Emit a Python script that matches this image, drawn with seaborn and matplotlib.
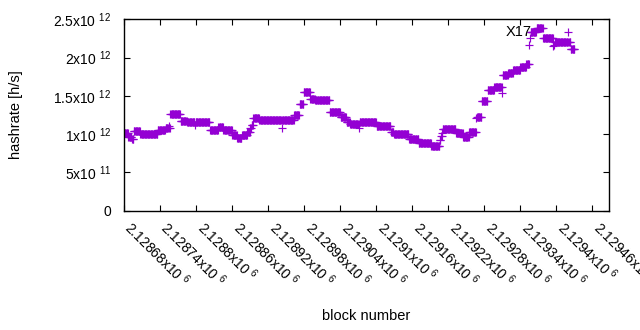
import numpy as np
import pandas as pd
import matplotlib
matplotlib.use("Agg")
import matplotlib.pyplot as plt
import seaborn as sns

# runs of consecutive blocks sharing the same hashrate estimate
run_start = [2128680, 2128688, 2128694, 2128697, 2128708, 2128737, 2128750, 2128755, 2128756,
             2128758, 2128775, 2128786, 2128799, 2128800, 2128824, 2128838, 2128846, 2128861,
             2128869, 2128877, 2128886, 2128891, 2128893, 2128896, 2128906, 2128943, 2128944,
             2128964, 2128973, 2128980, 2128991, 2128999, 2129023, 2129041, 2129051, 2129057,
             2129072, 2129073, 2129101, 2129125, 2129130, 2129155, 2129171, 2129181, 2129192,
             2129206, 2129208, 2129210, 2129211, 2129233, 2129245, 2129255, 2129267, 2129268,
             2129276, 2129286, 2129297, 2129310, 2129311, 2129320, 2129328, 2129340, 2129350,
             2129355, 2129356, 2129357, 2129367, 2129378, 2129395, 2129396, 2129397, 2129419,
             2129420, 2129424]
run_end = [2128687, 2128693, 2128696, 2128707, 2128736, 2128749, 2128754, 2128755, 2128757,
           2128774, 2128785, 2128798, 2128799, 2128823, 2128837, 2128845, 2128860, 2128868,
           2128876, 2128885, 2128890, 2128892, 2128895, 2128905, 2128942, 2128943, 2128963,
           2128972, 2128979, 2128990, 2128998, 2129022, 2129040, 2129050, 2129056, 2129071,
           2129072, 2129100, 2129124, 2129129, 2129154, 2129170, 2129180, 2129191, 2129205,
           2129207, 2129209, 2129210, 2129232, 2129244, 2129254, 2129266, 2129267, 2129275,
           2129285, 2129296, 2129309, 2129310, 2129319, 2129327, 2129339, 2129349, 2129354,
           2129355, 2129356, 2129366, 2129377, 2129394, 2129395, 2129396, 2129418, 2129419,
           2129423, 2129430]
run_value = [1.01e12, 0.96e12, 0.93e12, 1.04e12, 1.005e12, 1.048e12, 1.078e12, 1.105e12, 1.078e12,
             1.265e12, 1.175e12, 1.155e12, 1.118e12, 1.155e12, 1.048e12, 1.092e12, 1.048e12, 0.983e12,
             0.944e12, 0.987e12, 1.026e12, 1.08e12, 1.118e12, 1.205e12, 1.18e12, 1.082e12, 1.18e12,
             1.244e12, 1.386e12, 1.545e12, 1.454e12, 1.44e12, 1.288e12, 1.222e12, 1.161e12, 1.131e12,
             1.078e12, 1.157e12, 1.105e12, 1.026e12, 1.0e12, 0.935e12, 0.889e12, 0.878e12, 0.843e12,
             0.92e12, 0.975e12, 1.015e12, 1.069e12, 1.009e12, 0.961e12, 1.022e12, 1.209e12, 1.222e12,
             1.427e12, 1.575e12, 1.61e12, 1.536e12, 1.771e12, 1.804e12, 1.843e12, 1.876e12, 1.915e12,
             2.163e12, 2.255e12, 2.337e12, 2.392e12, 2.251e12, 2.15e12, 2.17e12, 2.199e12, 2.33e12,
             2.199e12, 2.107e12]

x_ticks = [2128680, 2128740, 2128800, 2128860, 2128920, 2128980, 2129040,
           2129100, 2129160, 2129220, 2129280, 2129340, 2129400, 2129460]
x_tick_labels = ["2.12868", "2.12874", "2.1288", "2.12886", "2.12892", "2.12898", "2.12904",
                 "2.1291", "2.12916", "2.12922", "2.12928", "2.12934", "2.1294", "2.12946"]
y_ticks = [0, 0.5e12, 1.0e12, 1.5e12, 2.0e12, 2.5e12]
y_tick_mant = ["0", "5", "1", "1.5", "2", "2.5"]
y_tick_exp = ["", "11", "12", "12", "12", "12"]

label_text = "X17"
label_block = 2129359
label_value = 2.34e12

blocks = np.concatenate([np.arange(s, e + 1) for s, e in zip(run_start, run_end)])
lengths = [e - s + 1 for s, e in zip(run_start, run_end)]
values = np.repeat(run_value, lengths)
df = pd.DataFrame({"block": blocks, "hashrate": values})

sns.set_theme(style="ticks")
plt.rcParams["font.family"] = ["Liberation Sans", "DejaVu Sans"]
plt.rcParams["mathtext.default"] = "regular"

fig = plt.figure(figsize=(6.4, 3.3), dpi=100)
ax = fig.add_axes([123.5 / 640, 1 - 210.5 / 330, (609.3 - 123.5) / 640, (210.5 - 19.3) / 330])

sns.scatterplot(data=df, x="block", y="hashrate", marker="+", color="#9400d3",
                s=28, linewidth=0.85, ax=ax, legend=False)

ax.set_xlim(2128680, 2129488)
ax.set_ylim(0, 2.5e12)

ax.set_xticks(x_ticks)
ax.set_xticklabels([t + "x10 $^{6}$" for t in x_tick_labels], rotation=-45,
                   ha="left", va="baseline", rotation_mode="anchor", fontsize=10)
ax.set_yticks(y_ticks)
ax.set_yticklabels([m if e == "" else m + "x10 $^{" + e + "}$" for m, e in zip(y_tick_mant, y_tick_exp)],
                   fontsize=10)

ax.tick_params(axis="both", direction="in", length=4.5, width=0.8, color="black",
               top=True, right=True, labelcolor="black")
ax.tick_params(axis="y", pad=9)
ax.tick_params(axis="x", pad=13.3)
for sp in ax.spines.values():
    sp.set_visible(True)
    sp.set_color("black")
    sp.set_linewidth(1.0)

ax.set_xlabel("block number", fontsize=10.5, color="black")
ax.set_ylabel("hashrate [h/s]", fontsize=10.5, color="black")
ax.xaxis.set_label_coords(0.5, -0.552)
ax.xaxis.label.set_va("center")
ax.yaxis.set_label_coords(-0.221, 0.5)
ax.yaxis.label.set_va("center")

ax.text(label_block, label_value, label_text, ha="right", va="center", fontsize=10.5, color="black")

fig.savefig("out.png", dpi=100)
